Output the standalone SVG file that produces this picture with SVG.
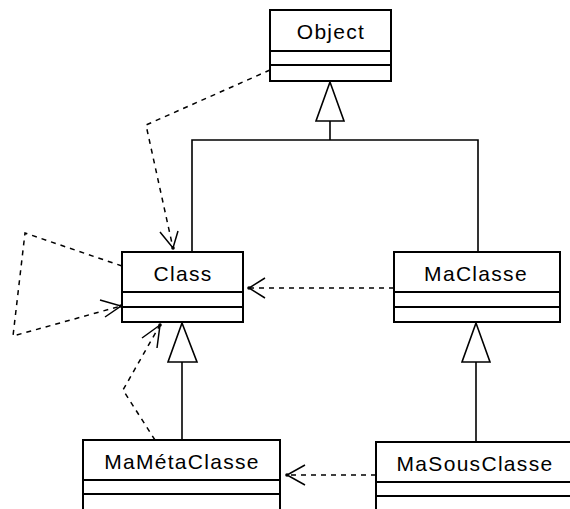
<svg xmlns="http://www.w3.org/2000/svg" width="570" height="509" viewBox="0 0 570 509">
<style>
.box{fill:#fff;stroke:#000;stroke-width:2}
.div{stroke:#000;stroke-width:2}
.lbl{font-family:"Liberation Sans",Arial,sans-serif;font-size:21px;letter-spacing:1.3px;fill:#000;text-anchor:middle}
.gen{fill:none;stroke:#000;stroke-width:1.6}
.tri{fill:#fff;stroke:#000;stroke-width:1.6}
.dep{fill:none;stroke:#000;stroke-width:1.5;stroke-dasharray:5 5}
.arm{fill:none;stroke:#000;stroke-width:1.5}
.dot{fill:#000}
</style>
<rect width="570" height="509" fill="#fff"/>
<g id="connectors">
  <!-- generalizations -->
  <polyline class="gen" points="192,252 192,140 478,140 478,252"/>
  <line class="gen" x1="330" y1="140" x2="330" y2="121"/>
  <polygon class="tri" points="330,82 316,121 344,121"/>
  <line class="gen" x1="182" y1="440" x2="182" y2="362"/>
  <polygon class="tri" points="182,323 168,362 197,362"/>
  <line class="gen" x1="476" y1="442" x2="476" y2="362"/>
  <polygon class="tri" points="476,323 462,362 490,362"/>
  <!-- dependencies -->
  <polyline class="dep" points="270,70 146,125 173,248"/>
  <polyline class="arm" points="160,232 173,248 178,231"/>
  <circle class="dot" cx="173" cy="248" r="1.8"/>
  <polyline class="dep" points="122,266 25,233 13,336 121,306"/>
  <polyline class="arm" points="100,300 121,306 105,317"/>
  <circle class="dot" cx="121" cy="306" r="1.8"/>
  <line class="dep" x1="394" y1="288" x2="249" y2="288"/>
  <polyline class="arm" points="265,278 249,288 265,298"/>
  <circle class="dot" cx="249" cy="288" r="1.8"/>
  <line class="dep" x1="376" y1="475" x2="287" y2="475"/>
  <polyline class="arm" points="305,465 287,475 305,485"/>
  <circle class="dot" cx="287" cy="475" r="1.8"/>
  <polyline class="dep" points="155,440 123,390 160,325"/>
  <polyline class="arm" points="142,338 160,325 157,348"/>
  <circle class="dot" cx="160" cy="325" r="1.8"/>
</g>
<g id="Object">
  <rect class="box" x="270" y="10" width="121" height="71"/>
  <line class="div" x1="270" y1="51" x2="391" y2="51"/>
  <line class="div" x1="270" y1="65" x2="391" y2="65"/>
  <text class="lbl" x="331" y="39">Object</text>
</g>
<g id="Class">
  <rect class="box" x="122" y="252" width="121" height="70"/>
  <line class="div" x1="122" y1="292" x2="243" y2="292"/>
  <line class="div" x1="122" y1="307" x2="243" y2="307"/>
  <text class="lbl" x="183" y="281">Class</text>
</g>
<g id="MaClasse">
  <rect class="box" x="394" y="252" width="166" height="70"/>
  <line class="div" x1="394" y1="292" x2="560" y2="292"/>
  <line class="div" x1="394" y1="307" x2="560" y2="307"/>
  <text class="lbl" x="476" y="281">MaClasse</text>
</g>
<g id="MaMetaClasse">
  <rect class="box" x="83" y="440" width="197" height="80"/>
  <line class="div" x1="83" y1="480" x2="280" y2="480"/>
  <line class="div" x1="83" y1="494" x2="280" y2="494"/>
  <text class="lbl" x="182" y="469">MaMétaClasse</text>
</g>
<g id="MaSousClasse">
  <rect class="box" x="376" y="442" width="200" height="80"/>
  <line class="div" x1="376" y1="482" x2="576" y2="482"/>
  <line class="div" x1="376" y1="496" x2="576" y2="496"/>
  <text class="lbl" x="475" y="471">MaSousClasse</text>
</g>
</svg>
